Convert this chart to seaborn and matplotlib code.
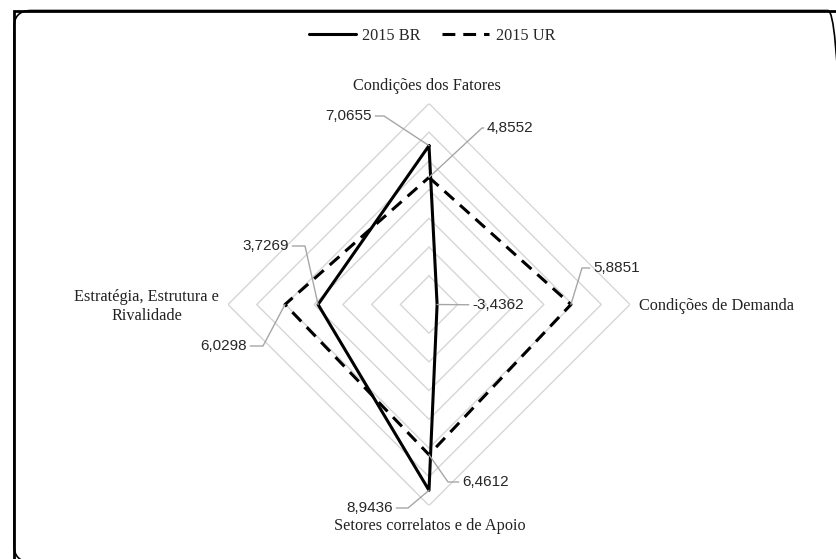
import numpy as np
import pandas as pd
import matplotlib
matplotlib.use('Agg')
import matplotlib.pyplot as plt
import seaborn as sns
from matplotlib.patches import FancyBboxPatch, Rectangle

# Chart data
categories = ['Condições dos Fatores', 'Condições de Demanda',
              'Setores correlatos e de Apoio', 'Estratégia, Estrutura e\nRivalidade']
series_names = ['2015 BR', '2015 UR']
br_values = [7.0655, -3.4362, 8.9436, 3.7269]
ur_values = [4.8552, 5.8851, 6.4612, 6.0298]
br_labels = ['7,0655', '-3,4362', '8,9436', '3,7269']
ur_labels = ['4,8552', '5,8851', '6,4612', '6,0298']
r_min, r_max, r_step = -4, 10, 2

W, H = 836, 559
sns.set_style('white')
plt.rcParams['font.family'] = ['Liberation Serif', 'DejaVu Serif']

angles = np.linspace(0, 2 * np.pi, len(categories), endpoint=False)
closed_angles = list(angles) + [2 * np.pi]

rows = []
for name, vals in zip(series_names, [br_values, ur_values]):
    for a, v in zip(closed_angles, vals + [vals[0]]):
        rows.append({'theta': a, 'value': v, 'serie': name})
df = pd.DataFrame(rows)

fig = plt.figure(figsize=(W / 100, H / 100), dpi=100)
# square polar area, centre at (429, 304.5) px, radius 201 px
cx, cy, rad = 429, 304.5, 201
ax = fig.add_axes([(cx - rad) / W, (H - cy - rad) / H, 2 * rad / W, 2 * rad / H],
                  projection='polar')
ax.set_theta_zero_location('N')
ax.set_theta_direction(-1)
ax.set_ylim(r_min, r_max)

# diamond gridlines
for lev in np.arange(r_min + r_step, r_max + 0.01, r_step):
    ax.plot(closed_angles, [lev] * len(closed_angles), color='#D6D6D6', lw=1.0, zorder=1)

sns.lineplot(data=df, x='theta', y='value', style='serie',
             dashes={'2015 BR': '', '2015 UR': (4.2, 2.6)},
             color='black', linewidth=2.2, sort=False, estimator=None,
             legend=False, ax=ax, zorder=3)

ax.grid(False)
ax.spines['polar'].set_visible(False)
ax.set_xticks([])
ax.set_yticks([])
ax.set_xlabel('')
ax.set_ylabel('')
ax.patch.set_alpha(0)
ax.apply_aspect()

# category labels (offset in pixels from the outer vertex)
cat_pos = [((-2, 17), 'center', 'center'), ((9, -1.5), 'left', 'center'),
           ((1, -20), 'center', 'center'), ((-9, -2), 'right', 'center')]
for cat, a, (off, ha, va) in zip(categories, angles, cat_pos):
    ax.annotate(cat, xy=(a, r_max), xycoords='data', xytext=off,
                textcoords='offset pixels', ha=ha, va=va, ma='center',
                fontsize=11.7, color='#222222', annotation_clip=False)

# data labels: text anchor (px, top-down), alignment, elbow x (px)
br_layout = [(372, 116, 'right', 384), (472, 305, 'left', None),
             (393, 508, 'right', 408), (289, 246, 'right', 305)]
ur_layout = [(487, 128, 'left', 482), (593, 268, 'left', 582),
             (462, 482, 'left', 448), (247, 346, 'right', 263)]

for vals, labs, layout in [(br_values, br_labels, br_layout), (ur_values, ur_labels, ur_layout)]:
    for a, v, lab, (tx, ty, ha, ex) in zip(angles, vals, labs, layout):
        px, py = ax.transData.transform((a, v))
        tyd = H - ty
        if ex is None:
            cs = 'arc3'
        else:
            angB = np.degrees(np.arctan2(tyd - py, ex - px))
            cs = f'angle,angleA=0,angleB={angB:.2f},rad=0'
        ax.annotate(lab, xy=(a, v), xycoords='data', xytext=(tx, tyd),
                    textcoords='figure pixels', ha=ha, va='center',
                    fontsize=11, family=['Liberation Sans', 'DejaVu Sans'], color='#262626',
                    arrowprops=dict(arrowstyle='-', color='#A6A6A6', lw=1.0,
                                    shrinkA=0, shrinkB=0, connectionstyle=cs),
                    annotation_clip=False, zorder=4)

# legend at the top
series_lines = ax.lines[-2:]
series_lines = sorted(series_lines, key=lambda l: 0 if l.get_linestyle() == '-' else 1)
fig.legend(series_lines, series_names, loc='center', bbox_to_anchor=(432 / W, 1 - 36 / H),
           ncol=2, frameon=False, prop={'family': 'Liberation Serif', 'size': 11.7},
           handlelength=2.9, handletextpad=0.4, columnspacing=1.3)

# chart border: square frame plus rounded frame running off the right/bottom edges
fig.patches.append(Rectangle((14 / 100, -1.0), 10, (H - 10.5) / 100 + 1.0,
                             transform=fig.dpi_scale_trans, fill=False,
                             edgecolor='black', lw=2.0))
fig.patches.append(FancyBboxPatch((14 / 100, (H - 562) / 100), (845 - 14) / 100, (562 - 10.5) / 100,
                                  boxstyle='round,pad=0,rounding_size=0.17',
                                  transform=fig.dpi_scale_trans, fill=False,
                                  edgecolor='black', lw=1.2))

fig.savefig('out.png', dpi=100)
